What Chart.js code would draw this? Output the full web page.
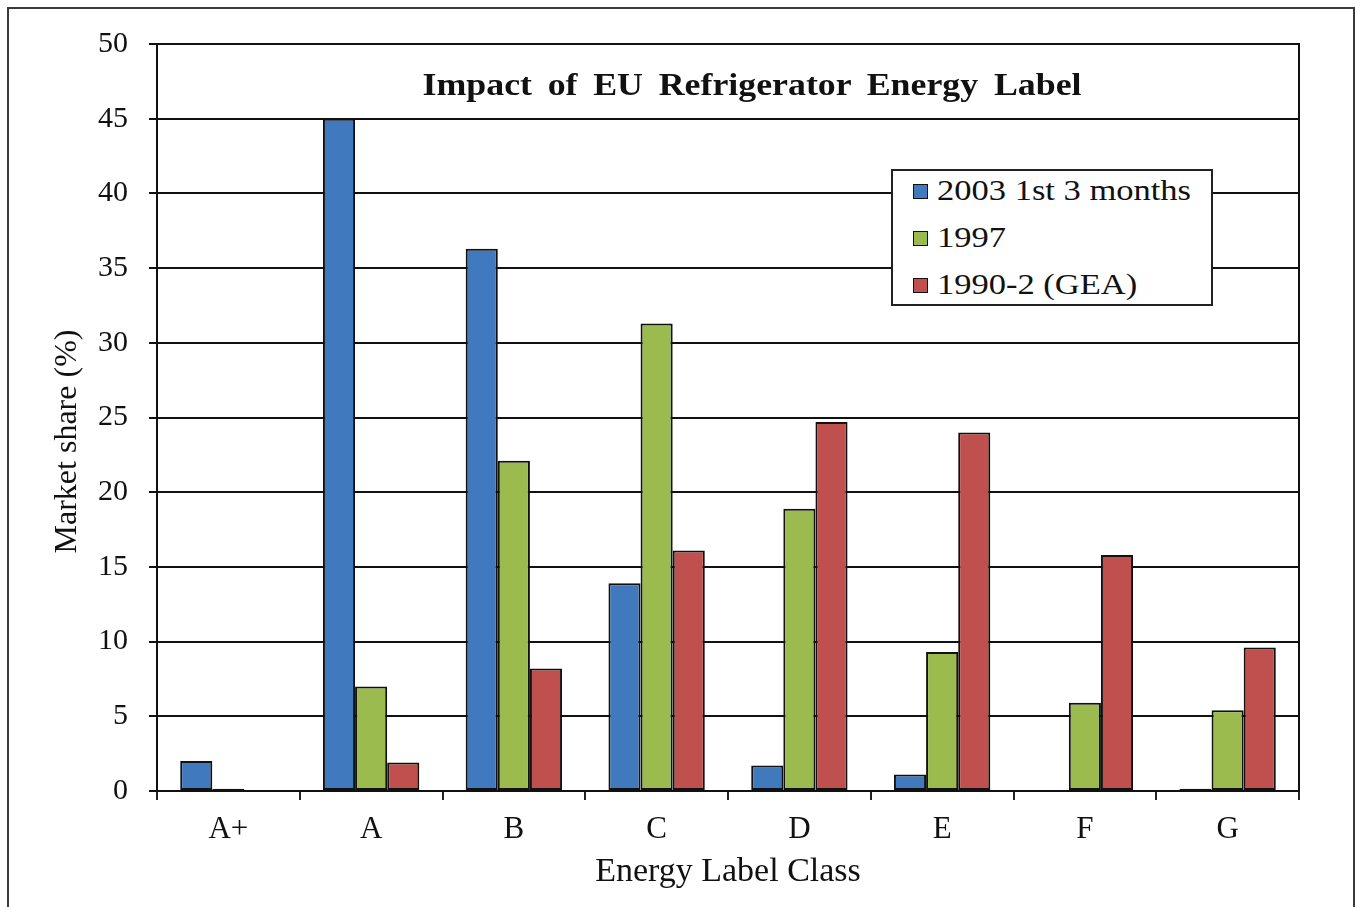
<!DOCTYPE html>
<html>
<head>
<meta charset="utf-8">
<script src="https://cdn.jsdelivr.net/npm/chart.js@4"></script>
<style>
  body { margin: 0; background: #fff; overflow: hidden; }
  #wrap { position: relative; width: 1356px; height: 907px; }
  #frame { position: absolute; left: 7px; top: 7px; width: 1348px; height: 930px; border: 2px solid #3a3a3a; box-sizing: border-box; }
  #title { position: absolute; left: 352px; width: 800px; top: 66px; text-align: center;
    font: bold 32px "Liberation Serif", serif; word-spacing: 6px; color: #111;
    transform: scaleX(1.12); transform-origin: 400px 0; }
  #legend { position: absolute; left: 891px; top: 169px; width: 322px; height: 137px; box-sizing: border-box;
    border: 2px solid #222; background: #fff; font: 30px "Liberation Serif", serif; color: #111; }
  .row { position: absolute; left: 20px; height: 40px; line-height: 40px; white-space: nowrap; }
  .sw { display: inline-block; width: 13px; height: 13px; border: 1.5px solid #111; margin-right: 9px; vertical-align: 1px; }
  .txt { display: inline-block; transform: scaleX(1.15); transform-origin: 0 50%; }
</style>
</head>
<body>
<div id="wrap">
  <canvas id="myChart"></canvas>
  <div id="title">Impact of EU Refrigerator Energy Label</div>
  <div id="legend"></div>
  <div id="frame"></div>
</div>
<script>
var classes = ['A+', 'A', 'B', 'C', 'D', 'E', 'F', 'G'];

var seriesNames = ['2003 1st 3 months', '1997', '1990-2 (GEA)'];
var share2003 = [2.0, 45.0, 36.3, 13.9, 1.7, 1.1, 0, 0.15];
var share1997 = [0.15, 7.0, 22.1, 31.3, 18.9, 9.3, 5.9, 5.4];
var share1990 = [0, 1.9, 8.2, 16.1, 24.7, 24.0, 15.8, 9.6];
var colors = ['#4079bd', '#9bbb4f', '#c0504d'];

var yTicks = [0, 5, 10, 15, 20, 25, 30, 35, 40, 45, 50];

var cv = document.getElementById('myChart');
cv.width = 1356;
cv.height = 907;
cv.style.width = '1356px';
cv.style.height = '907px';

// legend overlay, sits inside the plot like the original
var legend = document.getElementById('legend');
seriesNames.forEach(function (name, i) {
    var row = document.createElement('div');
    row.className = 'row';
    row.style.top = (-1 + i * 47) + 'px';
    var sw = document.createElement('span');
    sw.className = 'sw';
    sw.style.background = colors[i];
    row.appendChild(sw);
    var t = document.createElement('span');
    t.className = 'txt';
    t.textContent = name;
    row.appendChild(t);
    legend.appendChild(row);
});

var serif = '"Liberation Serif", "Times New Roman", serif';

const data = {
    labels: classes,
    datasets: [share2003, share1997, share1990].map(function (vals, i) {
        return {
            label: seriesNames[i],
            data: vals,
            backgroundColor: colors[i],
            borderColor: '#111',
            borderWidth: 2,
            borderSkipped: false,
            barPercentage: 1,
            categoryPercentage: 0.675
        };
    })
};

const config = {
    type: 'bar',
    data: data,
    options: {
        responsive: false,
        animation: false,
        devicePixelRatio: 1,
        layout: { padding: { left: 0, top: 44, right: 57, bottom: 0 } },
        plugins: { legend: { display: false }, title: { display: false }, tooltip: { enabled: false } },
        scales: {
            x: {
                grid: { offset: true, drawOnChartArea: false, drawTicks: true, tickLength: 9, color: '#222', lineWidth: 2 },
                border: { display: true, color: '#111', width: 2 },
                ticks: { color: '#111', font: { family: serif, size: 31 }, padding: 11 },
                title: { display: true, text: 'Energy Label Class', color: '#111', font: { family: serif, size: 34 }, padding: { top: 0, bottom: 15 } },
                afterFit: function (s) { s.height = 116; }
            },
            y: {
                min: 0,
                max: 50,
                afterBuildTicks: function (s) { s.ticks = yTicks.map(function (v) { return { value: v }; }); },
                grid: { color: '#111', lineWidth: 2, drawTicks: true, tickLength: 8 },
                border: { display: true, color: '#111', width: 2 },
                ticks: { color: '#111', font: { family: serif, size: 30 }, padding: 21 },
                // trailing spaces push the rotated title a bit lower, as in the original
                title: { display: true, text: 'Market share (%)      ', color: '#111', font: { family: serif, size: 32 }, padding: { top: 48, bottom: 0 } },
                afterFit: function (s) { s.width = 157; }
            },
            y2: {
                position: 'right',
                min: 0,
                max: 50,
                grid: { display: false },
                ticks: { display: false },
                border: { display: true, color: '#111', width: 2 },
                afterFit: function (s) { s.width = 0; }
            }
        }
    }
};

const myChart = new Chart(cv, config);
</script>
</body>
</html>
